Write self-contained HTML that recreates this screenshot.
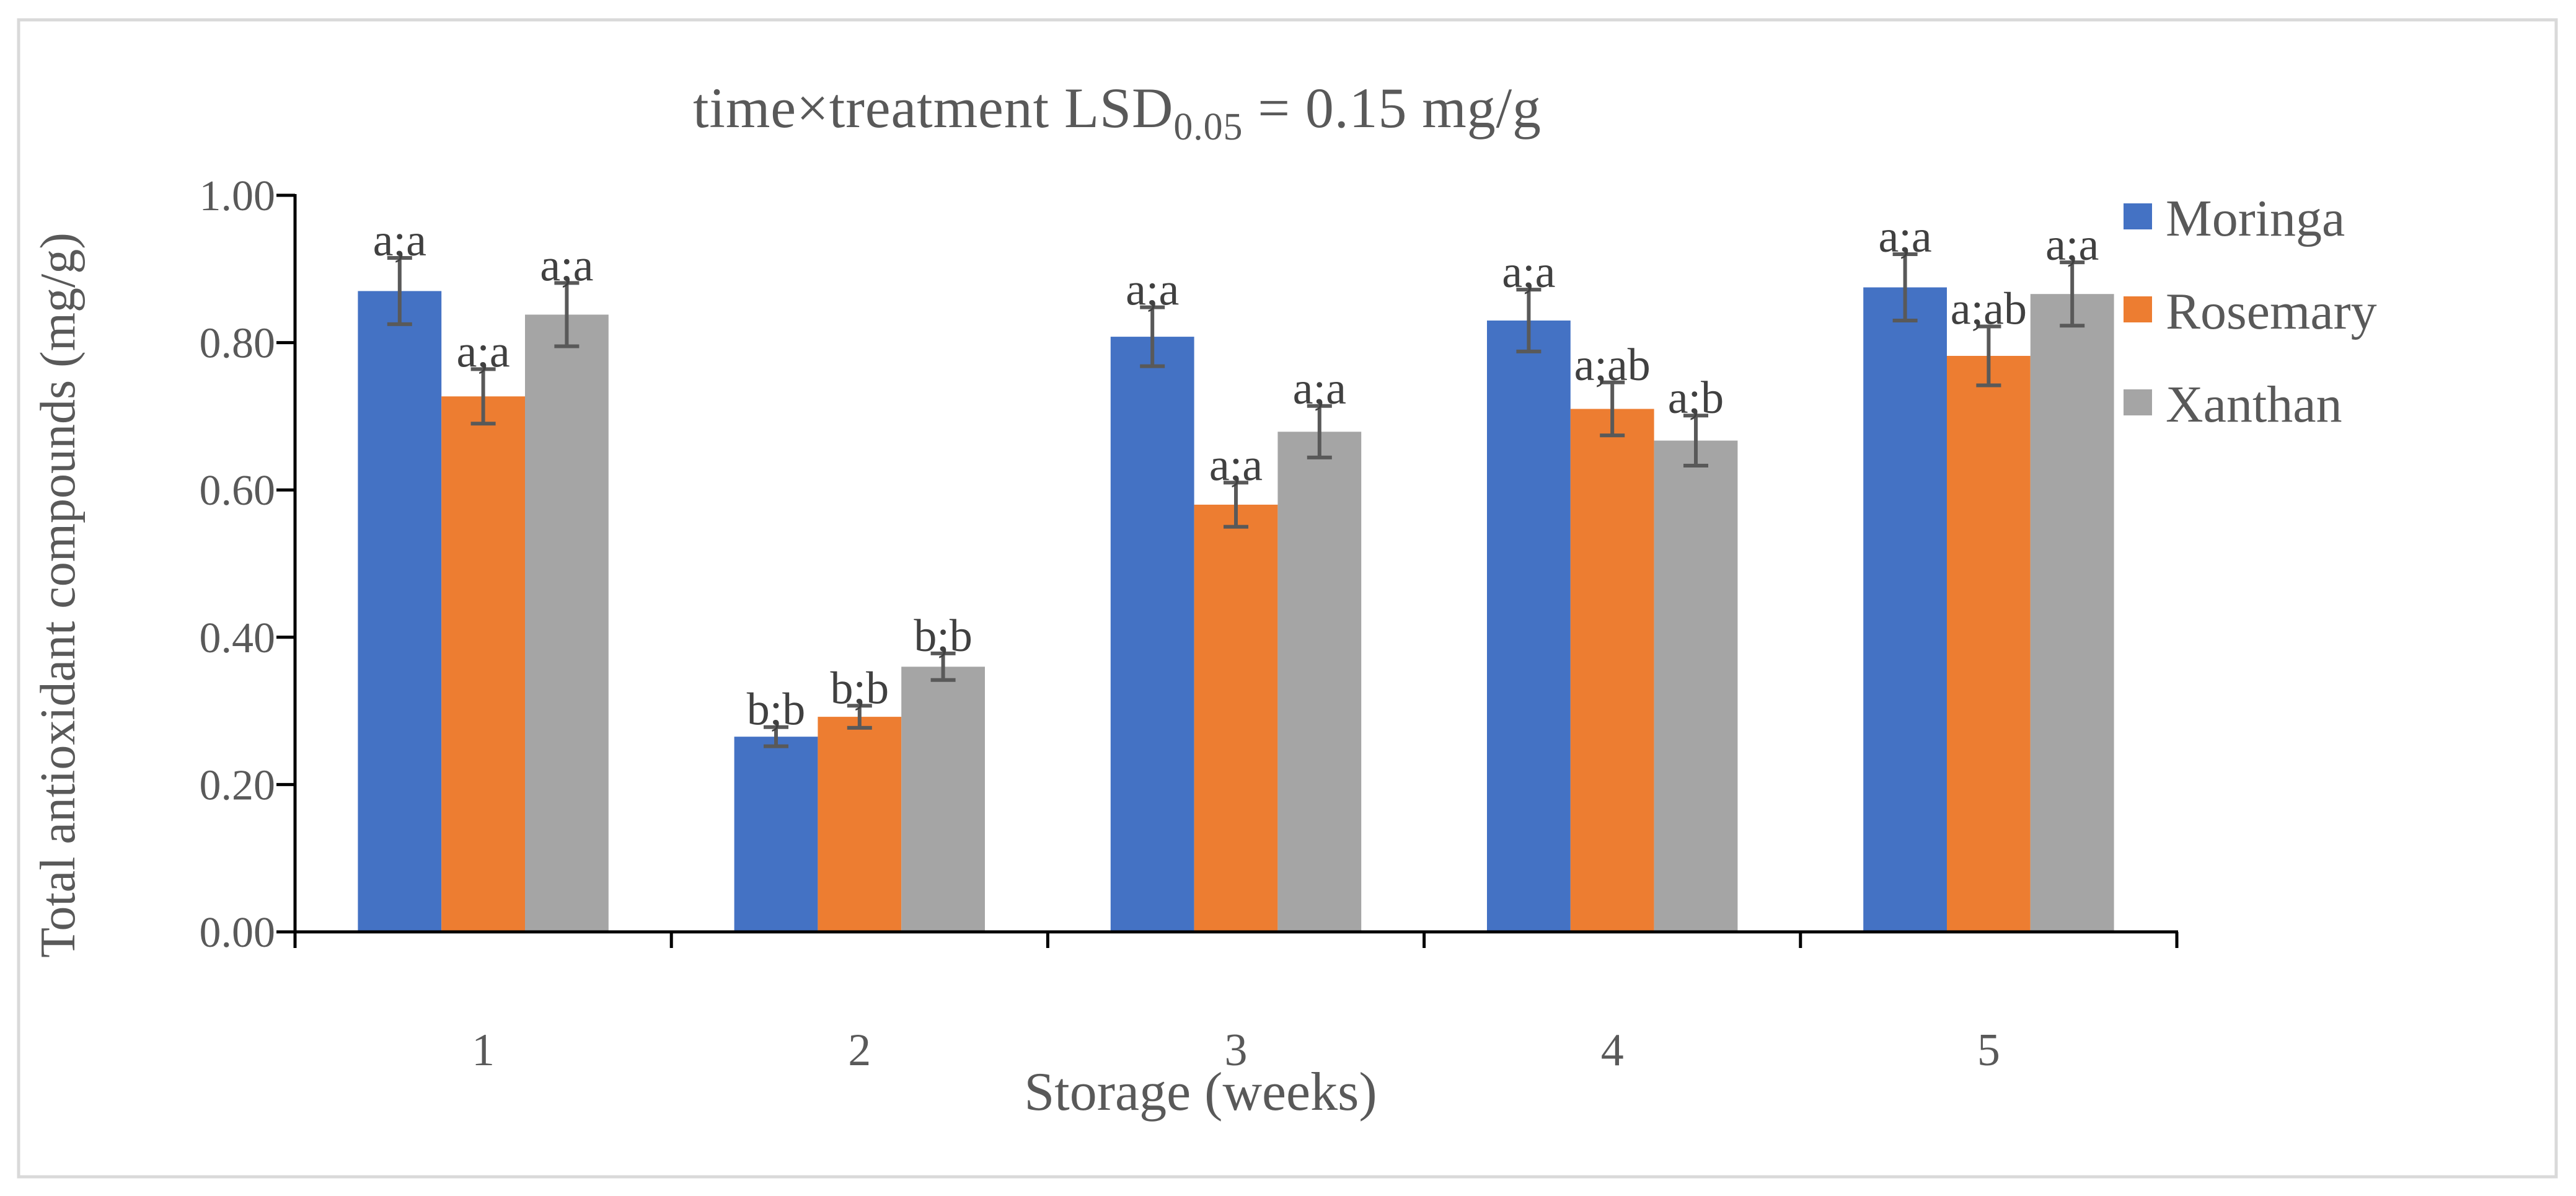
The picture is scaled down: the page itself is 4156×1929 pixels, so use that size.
<!DOCTYPE html>
<html><head><meta charset="utf-8"><style>
html,body{margin:0;padding:0;background:#fff}
svg text{font-family:"Liberation Serif",serif;fill:#595959}
</style></head><body>
<svg id="chart" width="4156" height="1924" viewBox="0 0 4156 1924" xmlns="http://www.w3.org/2000/svg">
<rect x="30" y="32" width="4094" height="1866" fill="#fff" stroke="#d9d9d9" stroke-width="5"/>
<text x="1118" y="205" font-size="92" textLength="1368">time×treatment LSD<tspan font-size="62" dy="20">0.05</tspan><tspan dy="-20"> = 0.15 mg/g</tspan></text>
<g id="plot"></g>
<text x="1937" y="1790" font-size="88" text-anchor="middle">Storage (weeks)</text>
<text transform="translate(120,960) rotate(-90)" font-size="80" text-anchor="middle">Total antioxidant compounds (mg/g)</text>
</svg>
<script>
const categories = ["1","2","3","4","5"];
const seriesNames = ["Moringa","Rosemary","Xanthan"];
const moringa = [0.870,0.265,0.808,0.830,0.875];
const rosemary = [0.727,0.292,0.580,0.710,0.782];
const xanthan = [0.838,0.360,0.679,0.667,0.866];
const moringaErr = [0.045,0.013,0.040,0.042,0.045];
const rosemaryErr = [0.037,0.015,0.030,0.036,0.040];
const xanthanErr = [0.043,0.018,0.035,0.034,0.043];
const moringaLbl = ["a;a","b;b","a;a","a;a","a;a"];
const rosemaryLbl = ["a;a","b;b","a;a","a;ab","a;ab"];
const xanthanLbl = ["a;a","b;b","a;a","a;b","a;a"];
const yTicks = [0,0.2,0.4,0.6,0.8,1.0];

const colors = ["#4472c4","#ed7d31","#a5a5a5"];
const X0=476, X1=3512, Y0=1503, Y1=315;
const NS="http://www.w3.org/2000/svg";
const g=document.getElementById('plot');
const bw=(X1-X0)/categories.length;
const barW=bw*0.222;
const y=v=>Y0-(v/1.0)*(Y0-Y1);
const xc=i=>X0+bw*(i+0.5);
function mk(t,a,p){const e=document.createElementNS(NS,t);for(const k in a)e.setAttribute(k,a[k]);(p||g).appendChild(e);return e;}
const vals=[moringa,rosemary,xanthan], errs=[moringaErr,rosemaryErr,xanthanErr], lbls=[moringaLbl,rosemaryLbl,xanthanLbl];
yTicks.forEach(t=>{
  const l=mk('line',{x1:X0-30,x2:X0,y1:y(t),y2:y(t),stroke:'#000','stroke-width':5});
  
  
  const tx=mk('text',{x:X0-32,y:y(t)+24,'font-size':70,'text-anchor':'end'});
  tx.textContent=t.toFixed(2);
  
  
});
categories.forEach((c,i)=>{
  vals.forEach((s,j)=>{
    const bx=xc(i)+(j-1.5)*barW;
    const r=mk('rect',{x:bx,y:y(s[i]),width:barW,height:Y0-y(s[i]),fill:colors[j]});
    
    
    const cx=bx+barW/2, e=errs[j][i];
    const eg=mk('g',{stroke:'#595959','stroke-width':6});
    
    
    mk('line',{x1:cx,x2:cx,y1:y(s[i]+e),y2:y(s[i]-e)},eg);
    mk('line',{x1:cx-20,x2:cx+20,y1:y(s[i]+e),y2:y(s[i]+e)},eg);
    mk('line',{x1:cx-20,x2:cx+20,y1:y(s[i]-e),y2:y(s[i]-e)},eg);
    const t=mk('text',{x:cx,y:y(s[i]+e)-4,'font-size':74,'text-anchor':'middle',style:'fill:#404040'});
    t.textContent=lbls[j][i];
    
    
  });
  const xl=mk('text',{x:xc(i),y:1718,'font-size':74,'text-anchor':'middle'});
  xl.textContent=c;
  
  
});
const ya=mk('line',{x1:X0,x2:X0,y1:Y1-2,y2:Y0+2,stroke:'#000','stroke-width':5});


const xa=mk('line',{x1:X0-30,x2:X1+2,y1:Y0,y2:Y0,stroke:'#000','stroke-width':5});


for(let i=0;i<=categories.length;i++){
  const tk=mk('line',{x1:X0+bw*i,x2:X0+bw*i,y1:Y0,y2:Y0+26,stroke:'#000','stroke-width':5});
  
  
}
seriesNames.forEach((n,j)=>{
  const ly=362+j*150;
  const lg=mk('g',{});
  
  
  mk('rect',{x:3426,y:ly-34,width:46,height:42,fill:colors[j]},lg);
  const t=mk('text',{x:3494,y:ly+18,'font-size':84},lg);
  t.textContent=n;
});
</script>
</body></html>
